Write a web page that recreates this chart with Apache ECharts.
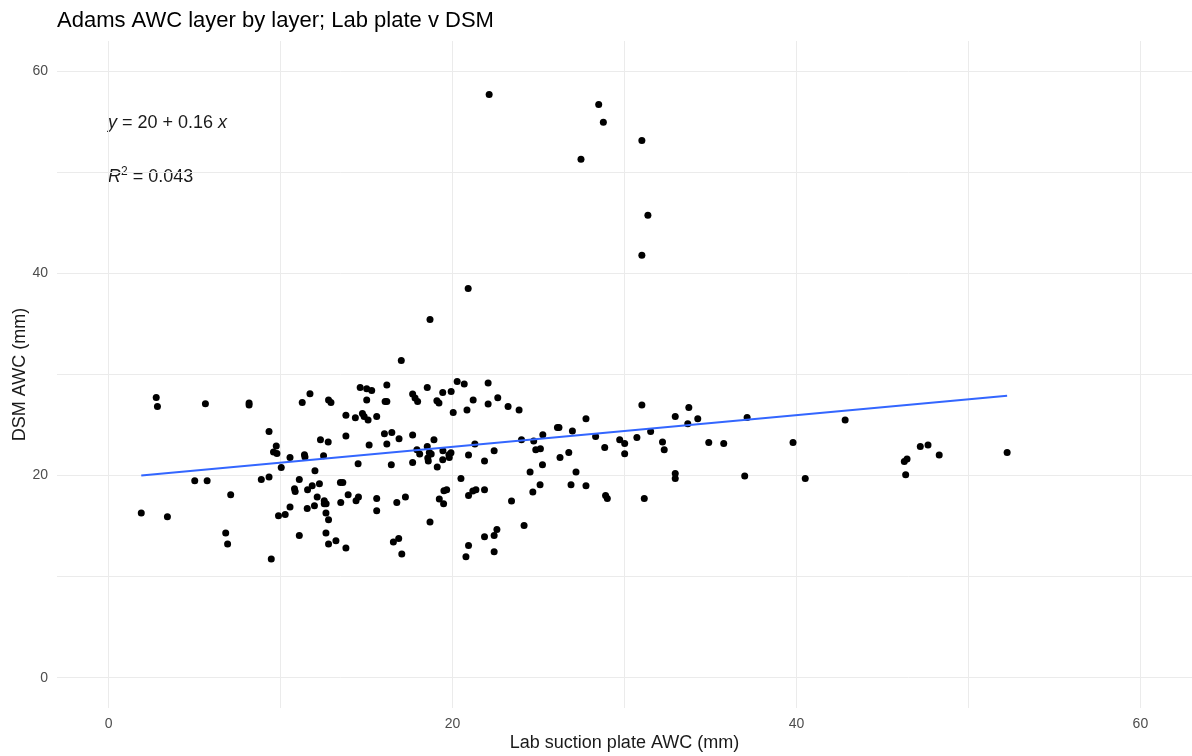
<!DOCTYPE html>
<html>
<head>
<meta charset="utf-8">
<script src="https://cdn.jsdelivr.net/npm/echarts@6/dist/echarts.min.js"></script>
<style>
  html, body { margin: 0; padding: 0; background: #fff; }
  #chart { width: 1192px; height: 756px; }
</style>
</head>
<body>
<div id="chart"></div>
<script>
// Lab suction plate AWC (mm) per layer
const labAwc = [
  1.90, 2.77, 2.84, 5.63, 8.17, 8.17, 9.33, 9.75, 9.59, 9.79,
  10.55, 10.04, 5.01, 5.73, 8.88, 9.33, 11.09, 10.81, 10.85, 7.10,
  3.42, 10.55, 9.88, 10.27, 6.81, 6.92, 11.09, 9.46, 17.02, 14.63,
  15.01, 15.30, 16.18, 11.71, 11.26, 12.79, 12.93, 15.01, 16.08, 16.18,
  17.68, 17.82, 17.97, 18.53, 19.43, 19.92, 20.27, 20.68, 22.07, 19.09,
  19.21, 21.20, 22.07, 20.84, 20.04, 13.80, 14.35, 14.76, 14.86, 15.09,
  15.59, 13.80, 12.32, 12.77, 15.15, 16.04, 16.47, 16.18, 16.89, 17.68,
  18.92, 18.53, 17.93, 18.09, 18.65, 18.76, 19.44, 19.91, 19.79, 19.81,
  20.93, 21.30, 11.39, 11.42, 12.50, 12.00, 14.51, 16.44, 17.68, 18.56,
  18.59, 19.11, 19.43, 21.86, 20.49, 11.57, 11.84, 12.26, 11.55, 11.97,
  12.13, 12.54, 12.65, 12.54, 13.48, 13.62, 13.93, 13.50, 14.39, 14.53,
  15.59, 15.59, 16.76, 17.26, 12.64, 12.79, 12.64, 12.79, 13.22, 13.80,
  16.56, 16.87, 17.05, 18.69, 19.23, 19.48, 19.50, 19.66, 20.93, 21.18,
  21.36, 21.86, 20.93, 20.78, 21.86, 22.63, 23.23, 23.87, 27.76, 31.01,
  32.95, 26.10, 26.19, 26.97, 25.25, 24.01, 24.72, 28.32, 29.72, 30.01,
  30.72, 31.52, 32.21, 32.31, 22.42, 24.84, 25.11, 26.25, 26.76, 28.85,
  30.01, 25.23, 24.51, 27.18, 25.09, 24.67, 26.89, 27.76, 23.43, 28.90,
  29.00, 31.15, 32.95, 32.95, 24.16, 22.42, 22.58, 22.42, 33.74, 33.68,
  34.26, 37.13, 34.90, 35.77, 39.80, 42.83, 36.99, 40.51, 46.35, 46.27,
  46.43, 47.20, 47.65, 48.30, 52.25, 22.13, 28.50, 28.77, 31.01, 27.47,
  31.36, 31.01, 20.91, 18.69
];
// DSM AWC (mm), same order
const dsmAwc = [
  16.29, 27.73, 26.84, 27.11, 27.17, 26.97, 24.36, 22.92, 22.32, 22.19,
  21.79, 20.80, 19.49, 19.49, 19.61, 19.85, 19.61, 18.69, 18.43, 18.10,
  15.92, 16.88, 16.02, 16.15, 14.31, 13.22, 14.08, 11.74, 31.38, 28.71,
  28.59, 28.42, 28.95, 28.09, 27.23, 27.47, 27.23, 27.47, 27.33, 27.33,
  28.06, 27.67, 27.33, 28.71, 28.22, 28.32, 29.31, 29.05, 29.15, 27.40,
  27.17, 27.47, 27.07, 26.48, 26.24, 25.98, 25.72, 26.14, 25.85, 25.49,
  25.85, 23.91, 23.54, 23.31, 23.02, 24.13, 24.26, 23.12, 23.64, 24.01,
  23.54, 22.88, 22.55, 22.13, 22.28, 22.13, 22.45, 22.26, 22.06, 21.79,
  22.03, 23.12, 22.06, 21.83, 21.96, 20.47, 21.17, 21.07, 21.30, 21.73,
  21.43, 20.84, 21.56, 21.43, 19.71, 18.60, 18.99, 19.19, 16.75, 17.01,
  17.87, 17.51, 17.21, 17.21, 19.32, 19.32, 18.10, 17.34, 17.51, 17.87,
  17.73, 16.52, 17.34, 17.87, 16.29, 15.63, 14.31, 13.22, 13.55, 12.83,
  13.42, 13.78, 12.24, 15.40, 17.68, 17.21, 18.50, 18.60, 18.03, 18.47,
  18.60, 18.60, 13.09, 11.97, 13.95, 27.69, 26.84, 26.48, 25.62, 26.97,
  25.85, 24.76, 24.76, 24.40, 24.04, 23.54, 23.41, 23.87, 23.54, 23.17,
  23.77, 24.36, 23.31, 22.55, 22.45, 22.55, 22.65, 21.79, 22.28, 22.78,
  22.16, 21.07, 20.35, 20.35, 19.09, 18.37, 19.09, 18.99, 17.48, 18.03,
  17.73, 17.73, 20.21, 19.71, 15.06, 14.08, 14.67, 12.46, 26.74, 25.12,
  25.62, 25.75, 23.27, 23.17, 23.27, 25.49, 19.95, 19.71, 20.08, 21.40,
  21.63, 22.88, 23.02, 22.03, 22.28, 57.70, 56.71, 54.97, 53.15, 51.31,
  45.77, 41.81, 38.51, 35.44
];
// fitted line ends (lm)
const fitX = [1.90, 52.25];
const fitY = [20.0, 27.9];
// axis ticks
const gridTicks = [0, 10, 20, 30, 40, 50, 60];
const labelTicks = [0, 20, 40, 60];

const points = labAwc.map((x, i) => [x, dsmAwc[i]]);
const fitLine = fitX.map((x, i) => [x, fitY[i]]);

const font = "'Liberation Sans', Arial, sans-serif";

const axisCommon = {
  type: 'value',
  min: -3,
  max: 63,
  nameLocation: 'middle',
  nameMoveOverlap: false,
  nameTextStyle: { color: '#1a1a1a', fontSize: 18, fontFamily: font },
  axisLine: { show: false },
  axisTick: { show: false, customValues: gridTicks },
  axisLabel: { customValues: labelTicks, color: '#4d4d4d', fontSize: 14, fontFamily: font, margin: 9 },
  splitLine: { show: true, lineStyle: { color: '#ebebeb', width: 1 } }
};

const chart = echarts.init(document.getElementById('chart'));
chart.setOption({
  animation: false,
  title: {
    text: 'Adams AWC layer by layer; Lab plate v DSM',
    left: 52,
    top: 5,
    textStyle: { color: '#000', fontSize: 22, fontWeight: 'normal', fontFamily: font }
  },
  grid: { left: 57, right: 0, top: 41, bottom: 48, containLabel: false, outerBoundsMode: 'none' },
  xAxis: Object.assign({}, axisCommon, {
    name: 'Lab suction plate AWC (mm)',
    nameGap: 26
  }),
  yAxis: Object.assign({}, axisCommon, {
    name: 'DSM AWC (mm)',
    nameGap: 28
  }),
  graphic: [
    {
      type: 'text',
      left: 108,
      top: 114,
      style: {
        text: '{i|y} = 20 + 0.16 {i|x}',
        fontSize: 18,
        fontFamily: font,
        fill: '#1a1a1a',
        rich: { i: { fontStyle: 'italic', fontSize: 18, fontFamily: font } }
      }
    },
    {
      type: 'text',
      left: 108,
      top: 166,
      style: {
        text: '{i|R}{s|2}{n| = 0.043}',
        fontSize: 18,
        fontFamily: font,
        fill: '#1a1a1a',
        rich: {
          i: { fontStyle: 'italic', fontSize: 18, fontFamily: font, lineHeight: 22 },
          n: { fontSize: 18, fontFamily: font, lineHeight: 22 },
          s: { fontSize: 12, fontFamily: font, lineHeight: 12, verticalAlign: 'top' }
        }
      }
    }
  ],
  series: [
    {
      type: 'scatter',
      data: points,
      symbolSize: 7,
      itemStyle: { color: '#000', opacity: 1 },
      z: 3
    },
    {
      type: 'line',
      data: fitLine,
      showSymbol: false,
      lineStyle: { color: '#3366ff', width: 2 },
      z: 4
    }
  ]
});
</script>
</body>
</html>
